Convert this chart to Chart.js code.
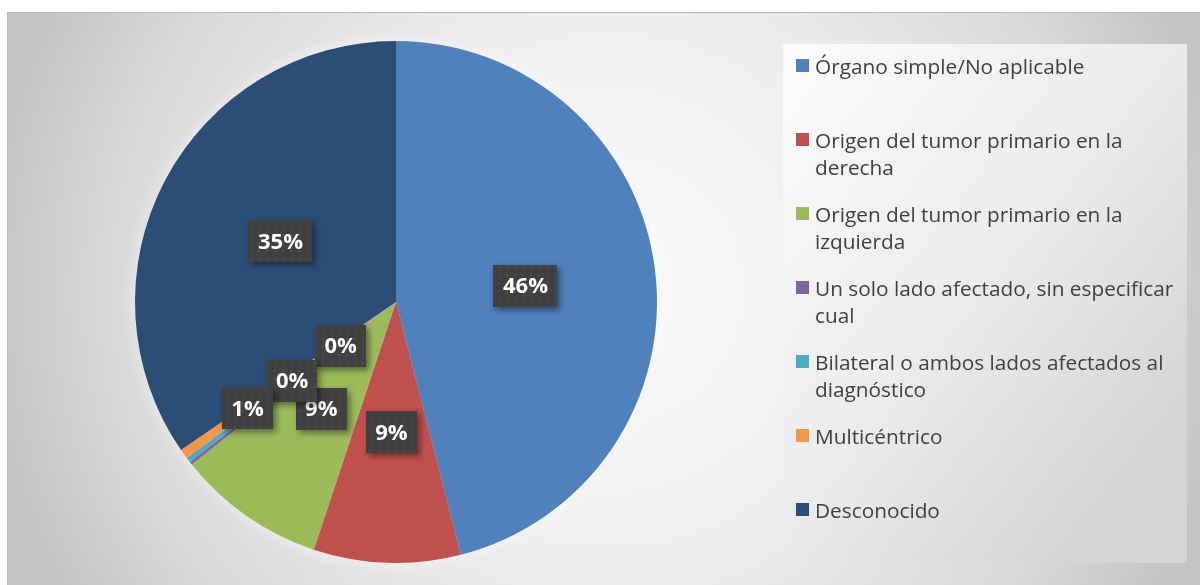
<!DOCTYPE html>
<html>
<head>
<meta charset="utf-8">
<script src="https://cdn.jsdelivr.net/npm/chart.js@4"></script>
<style>
  html, body { margin: 0; padding: 0; background: #ffffff; }
  #chart { display: block; }
</style>
</head>
<body>
<canvas id="chart" width="1200" height="585"></canvas>
<script>
// Données
const categories = [
    ["Órgano simple/No aplicable"],
    ["Origen del tumor primario en la", "derecha"],
    ["Origen del tumor primario en la", "izquierda"],
    ["Un solo lado afectado, sin especificar", "cual"],
    ["Bilateral o ambos lados afectados al", "diagnóstico"],
    ["Multicéntrico"],
    ["Desconocido"]
];
const values = [46.0, 9.1, 9.2, 0.2, 0.3, 0.6, 34.6];
const colors = ["#4F81BD", "#C0504D", "#9BBB59", "#8064A2", "#4BACC6", "#F79646", "#2C4D75"];
// position des étiquettes (fraction du rayon, le long du milieu de la part)
const labelRadius = [0.5, 0.5, 0.5, 0.27, 0.5, 0.7, 0.5];

const total = values.reduce((a, b) => a + b, 0);

// petit motif à points pour les étiquettes
const patCanvas = document.createElement('canvas');
patCanvas.width = 8; patCanvas.height = 8;
const pctx = patCanvas.getContext('2d');
pctx.fillStyle = "#404040";
pctx.fillRect(0, 0, 8, 8);
pctx.fillStyle = "#505050";
pctx.fillRect(2, 2, 2, 2);

const background = {
    id: 'background',
    beforeDraw(chart) {
        const ctx = chart.ctx;
        ctx.save();
        ctx.fillStyle = "#ffffff";
        ctx.fillRect(0, 0, chart.width, chart.height);
        const g = ctx.createRadialGradient(610, 290, 0, 610, 290, 620);
        g.addColorStop(0, "#f9f9f9");
        g.addColorStop(0.4, "#f0f0f0");
        g.addColorStop(0.8, "#d9d9d9");
        g.addColorStop(1, "#c4c4c4");
        ctx.fillStyle = g;
        ctx.fillRect(7, 12, chart.width - 7, chart.height - 12);
        ctx.strokeStyle = "#b8b8b8";
        ctx.lineWidth = 1;
        ctx.beginPath();
        ctx.moveTo(7.5, chart.height);
        ctx.lineTo(7.5, 12.5);
        ctx.lineTo(chart.width, 12.5);
        ctx.stroke();

        // zone de la légende
        const lg = ctx.createLinearGradient(783, 100, 1187, 420);
        lg.addColorStop(0, "#fafafa");
        lg.addColorStop(0.5, "#ececec");
        lg.addColorStop(1, "#d4d4d4");
        ctx.fillStyle = lg;
        ctx.fillRect(783, 44, 404, 519);
        ctx.restore();
    },
    beforeDatasetsDraw(chart) {
        // léger halo autour du camembert
        const arc = chart.getDatasetMeta(0).data[0];
        if (!arc) return;
        const ctx = chart.ctx;
        ctx.save();
        ctx.shadowColor = "rgba(255,255,255,0.6)";
        ctx.shadowBlur = 18;
        ctx.fillStyle = "#dcdcdc";
        ctx.beginPath();
        ctx.arc(arc.x, arc.y, arc.outerRadius - 1, 0, Math.PI * 2);
        ctx.fill();
        ctx.restore();
    }
};

const pieLabels = {
    id: 'pieLabels',
    afterDatasetsDraw(chart) {
        const ctx = chart.ctx;
        const arcs = chart.getDatasetMeta(0).data;
        ctx.save();
        ctx.font = "bold 22px 'Open Sans'";
        ctx.textAlign = "center";
        ctx.textBaseline = "middle";
        const pattern = ctx.createPattern(patCanvas, 'repeat');
        arcs.forEach((arc, i) => {
            const p = arc.getProps(['x', 'y', 'startAngle', 'endAngle', 'outerRadius'], true);
            const mid = (p.startAngle + p.endAngle) / 2;
            const cx = p.x + Math.cos(mid) * p.outerRadius * labelRadius[i];
            const cy = p.y + Math.sin(mid) * p.outerRadius * labelRadius[i];
            const txt = Math.round(values[i] / total * 100) + "%";
            const w = ctx.measureText(txt).width + 19;
            const h = 42;
            ctx.save();
            ctx.shadowColor = "rgba(0,0,0,0.45)";
            ctx.shadowBlur = 6;
            ctx.shadowOffsetX = 3;
            ctx.shadowOffsetY = 3;
            ctx.fillStyle = pattern;
            ctx.fillRect(Math.round(cx - w / 2), Math.round(cy - h / 2), Math.round(w), h);
            ctx.restore();
            ctx.fillStyle = "#ffffff";
            ctx.fillText(txt, cx, cy + 1);
        });
        ctx.restore();
    }
};

const sideLegend = {
    id: 'sideLegend',
    afterDraw(chart) {
        const ctx = chart.ctx;
        ctx.save();
        ctx.font = "20.8px 'Open Sans'";
        ctx.textAlign = "left";
        ctx.textBaseline = "alphabetic";
        categories.forEach((lines, i) => {
            const base = 74 + i * 74;
            ctx.fillStyle = colors[i];
            ctx.fillRect(796, base - 15, 13, 13);
            ctx.fillStyle = "#404040";
            lines.forEach((line, j) => {
                ctx.fillText(line, 815, base + j * 27);
            });
        });
        ctx.restore();
    }
};

new Chart(document.getElementById('chart'), {
    type: 'pie',
    data: {
        labels: categories,
        datasets: [{
            data: values,
            backgroundColor: colors,
            borderWidth: 0
        }]
    },
    options: {
        responsive: false,
        animation: false,
        layout: {
            padding: { left: 135, right: 543, top: 41, bottom: 22 }
        },
        plugins: {
            legend: { display: false },
            tooltip: { enabled: false }
        }
    },
    plugins: [background, pieLabels, sideLegend]
});
</script>
</body>
</html>
